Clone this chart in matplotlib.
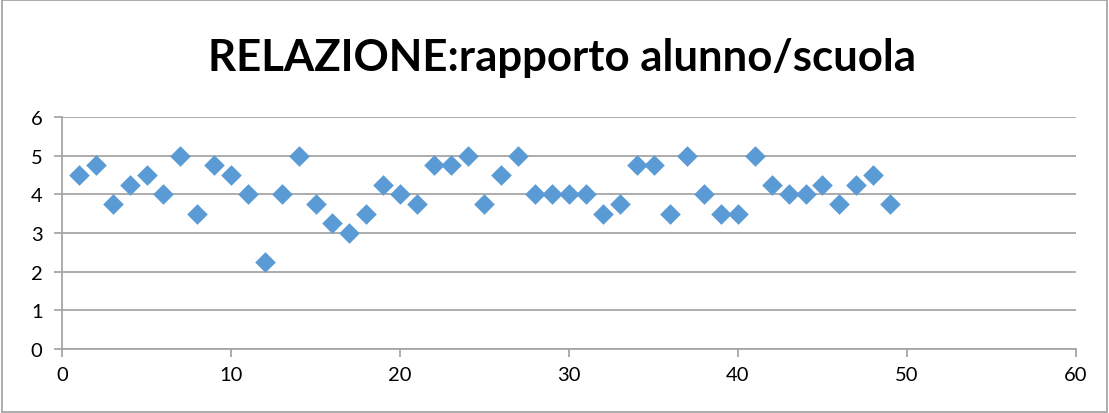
import matplotlib
matplotlib.use("Agg")
import matplotlib.pyplot as plt
from matplotlib.patches import Rectangle

x_values = list(range(1, 50))
y_values = [4.5, 4.75, 3.75, 4.25, 4.5, 4.0, 5.0, 3.5, 4.75, 4.5,
            4.0, 2.25, 4.0, 5.0, 3.75, 3.25, 3.0, 3.5, 4.25, 4.0,
            3.75, 4.75, 4.75, 5.0, 3.75, 4.5, 5.0, 4.0, 4.0, 4.0,
            4.0, 3.5, 3.75, 4.75, 4.75, 3.5, 5.0, 4.0, 3.5, 3.5,
            5.0, 4.25, 4.0, 4.0, 4.25, 3.75, 4.25, 4.5, 3.75]
x_ticks = [0, 10, 20, 30, 40, 50, 60]
y_ticks = [0, 1, 2, 3, 4, 5, 6]
title = "RELAZIONE:rapporto alunno/scuola"

plt.rcParams['font.family'] = ['Lato', 'DejaVu Sans']

fig = plt.figure(figsize=(11.09, 4.14), dpi=100)
ax = fig.add_axes([62/1109, 1-350/414, (1076-62)/1109, (350-118)/414])

ax.scatter(x_values, y_values, marker='D', s=10.5**2, color='#5B9BD5', zorder=3, linewidths=0)

ax.set_xlim(0, 60)
ax.set_ylim(0, 6)
ax.set_xticks(x_ticks)
ax.set_yticks(y_ticks)
ax.grid(axis='y', color='#A6A6A6', linewidth=1.3)
ax.set_axisbelow(True)
for s in ['top', 'right']:
    ax.spines[s].set_visible(False)
for s in ['left', 'bottom']:
    ax.spines[s].set_color('#A6A6A6')
    ax.spines[s].set_linewidth(1.3)
ax.tick_params(axis='both', colors='#A6A6A6', labelcolor='black', labelsize=14.5, length=6, width=1.3)
ax.tick_params(axis='y', pad=8)
ax.tick_params(axis='x', pad=6)

fig.text(562/1109, 1-58/414, title, ha='center', va='center', fontsize=31.5, fontweight='bold')

fig.patches.append(Rectangle((0.0015, 0.002), 0.997, 0.995, transform=fig.transFigure,
                             fill=False, edgecolor='#A6A6A6', linewidth=1.3))

fig.savefig('out.png', dpi=100)
